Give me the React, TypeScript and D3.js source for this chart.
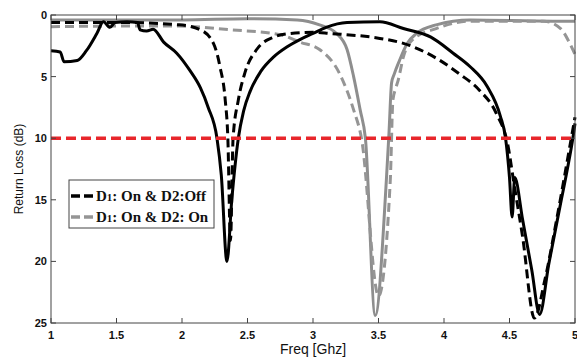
import React, { useRef, useEffect } from 'react';
import * as d3 from 'd3';

// Freq [GHz] / Return loss [dB]
const blackSolidX = [1.0, 1.07, 1.1, 1.2, 1.27, 1.35, 1.4, 1.45, 1.49, 1.58, 1.66, 1.68, 1.73, 1.78, 1.86, 1.96, 2.06, 2.14, 2.2, 2.267, 2.3, 2.343, 2.38, 2.43, 2.47, 2.52, 2.6, 2.7, 2.8, 2.9, 3.0, 3.1, 3.26, 3.51, 3.69, 3.9, 4.07, 4.2, 4.33, 4.43, 4.47, 4.5, 4.52, 4.54, 4.6, 4.67, 4.73, 4.8, 4.89, 4.94, 4.985, 5.0];
const blackSolidY = [2.9, 3.0, 3.8, 3.7, 2.9, 1.5, 0.55, 1.0, 0.6, 0.55, 0.6, 1.2, 1.3, 1.15, 2.2, 3.1, 4.5, 5.9, 7.5, 10, 13, 20, 15, 10, 7.8, 6.2, 4.6, 3.4, 2.6, 2.0, 1.5, 1.0, 0.6, 0.55, 1.1, 1.8, 3.1, 4.2, 5.8, 8.2, 10, 13.2, 16.4, 13.2, 16.6, 20.7, 24.3, 20.2, 15.3, 12.6, 9.9, 8.8];

const blackDashX = [1.0, 1.5, 1.98, 2.14, 2.24, 2.29, 2.33, 2.35, 2.37, 2.39, 2.43, 2.48, 2.57, 2.7, 2.83, 3.0, 3.13, 3.51, 3.69, 3.94, 4.12, 4.27, 4.4, 4.49, 4.53, 4.6, 4.69, 4.77, 4.86, 4.96, 5.0];
const blackDashY = [0.6, 0.6, 0.8, 1.2, 2.3, 4.2, 6.9, 10, 18.3, 10, 6.9, 4.7, 2.8, 1.8, 1.5, 1.4, 1.5, 1.9, 2.3, 3.5, 4.8, 6.1, 8.0, 10.7, 13.4, 18, 24.6, 21.5, 16.6, 10.7, 8.3];

const graySolidX = [1.0, 1.5, 2.0, 2.5, 2.88, 3.05, 3.18, 3.26, 3.31, 3.36, 3.4, 3.475, 3.56, 3.58, 3.6, 3.62, 3.66, 3.72, 3.79, 3.94, 4.2, 4.83, 5.0];
const graySolidY = [0.4, 0.4, 0.4, 0.3, 0.4, 0.8, 1.5, 2.8, 5.0, 7.7, 10, 24.4, 13.4, 9.6, 5.5, 4.8, 3.7, 2.3, 1.5, 0.8, 0.4, 0.5, 0.5];

const grayDashX = [1.0, 1.5, 1.98, 2.37, 2.75, 2.9, 3.05, 3.2, 3.31, 3.37, 3.5, 3.59, 3.61, 3.63, 3.65, 3.69, 3.76, 3.94, 4.2, 4.76, 4.89, 4.96, 5.0];
const grayDashY = [0.95, 0.9, 0.9, 1.2, 1.6, 2.2, 2.8, 4.7, 7.7, 10, 22.8, 13.4, 6.9, 6.0, 5.3, 3.4, 2.0, 1.1, 0.5, 0.5, 1.1, 2.3, 3.2];

const thresholdDb = 10;
const xTicks = [1, 1.5, 2, 2.5, 3, 3.5, 4, 4.5, 5];
const yTicks = [0, 5, 10, 15, 20, 25];

const W = 577, H = 358;
const margin = { top: 15, right: 2, bottom: 35, left: 51 };

const App: React.FC = () => {
  const svgRef = useRef<SVGSVGElement | null>(null);

  useEffect(() => {
    if (!svgRef.current) return;
    const svg = d3.select(svgRef.current);
    svg.selectAll('*').remove();

    const x0 = margin.left, x1 = W - margin.right;
    const y0 = margin.top, y1 = H - margin.bottom;
    const x = d3.scaleLinear().domain([1, 5]).range([x0, x1]);
    const y = d3.scaleLinear().domain([0, 25]).range([y0, y1]);

    svg.append('rect').attr('width', W).attr('height', H).attr('fill', '#fff');

    const plot = svg.append('g');
    const line = d3.line<[number, number]>()
      .x(d => x(d[0]))
      .y(d => y(d[1]))
      .curve(d3.curveMonotoneX);

    const draw = (xs: number[], ys: number[], color: string, dash: string | null) => {
      const pts = xs.map((v, i) => [v, ys[i]] as [number, number]);
      plot.append('path')
        .attr('d', line(pts))
        .attr('fill', 'none')
        .attr('stroke', color)
        .attr('stroke-width', 3)
        .attr('stroke-linejoin', 'round')
        .attr('stroke-dasharray', dash);
    };

    draw(graySolidX, graySolidY, '#8e8e8e', null);
    draw(grayDashX, grayDashY, '#959595', '9,5');
    draw(blackSolidX, blackSolidY, '#000', null);
    draw(blackDashX, blackDashY, '#000', '9,5');

    plot.append('line')
      .attr('x1', x(1)).attr('x2', x(5))
      .attr('y1', y(thresholdDb)).attr('y2', y(thresholdDb))
      .attr('stroke', '#e8262b').attr('stroke-width', 3.5)
      .attr('stroke-dasharray', '10,5');

    // frame and inward ticks
    const axisColor = '#444';
    svg.append('rect')
      .attr('x', x0).attr('y', y0).attr('width', x1 - x0).attr('height', y1 - y0)
      .attr('fill', 'none').attr('stroke', axisColor).attr('stroke-width', 1);

    const tl = 5;
    xTicks.forEach(t => {
      svg.append('line').attr('x1', x(t)).attr('x2', x(t)).attr('y1', y1).attr('y2', y1 - tl).attr('stroke', axisColor);
      svg.append('line').attr('x1', x(t)).attr('x2', x(t)).attr('y1', y0).attr('y2', y0 + tl).attr('stroke', axisColor);
      svg.append('text').attr('x', x(t)).attr('y', y1 + 16)
        .attr('text-anchor', 'middle')
        .attr('font-family', 'Liberation Sans, Arial, sans-serif')
        .attr('font-weight', 'bold').attr('font-size', 11)
        .attr('fill', '#111')
        .text(String(t));
    });
    yTicks.forEach(t => {
      svg.append('line').attr('x1', x0).attr('x2', x0 + tl).attr('y1', y(t)).attr('y2', y(t)).attr('stroke', axisColor);
      svg.append('line').attr('x1', x1).attr('x2', x1 - tl).attr('y1', y(t)).attr('y2', y(t)).attr('stroke', axisColor);
      svg.append('text').attr('x', x0 - 4).attr('y', y(t) + 4)
        .attr('text-anchor', 'end')
        .attr('font-family', 'Liberation Sans, Arial, sans-serif')
        .attr('font-weight', 'bold').attr('font-size', 11)
        .attr('fill', '#111')
        .text(String(t));
    });

    svg.append('text')
      .attr('x', (x0 + x1) / 2).attr('y', H - 4)
      .attr('text-anchor', 'middle')
      .attr('font-family', 'Liberation Sans, Arial, sans-serif')
      .attr('font-size', 14).attr('fill', '#111')
      .text('Freq [Ghz]');

    svg.append('text')
      .attr('transform', `translate(23,${(y0 + y1) / 2}) rotate(-90)`)
      .attr('text-anchor', 'middle')
      .attr('font-family', 'Liberation Sans, Arial, sans-serif')
      .attr('font-size', 12).attr('fill', '#111')
      .text('Return Loss (dB)');

    // legend
    const lg = svg.append('g');
    lg.append('rect').attr('x', 69).attr('y', 180).attr('width', 145).attr('height', 48)
      .attr('fill', '#fff').attr('stroke', '#444').attr('stroke-width', 1);
    const entries = [
      { color: '#000', pre: 'D', sub: '1', mid: ': On & D', sub2: '2', post: ':Off', yy: 196 },
      { color: '#959595', pre: 'D', sub: '1', mid: ': On & D', sub2: '2', post: ': On', yy: 217 },
    ];
    entries.forEach(e => {
      lg.append('line').attr('x1', 71).attr('x2', 94).attr('y1', e.yy).attr('y2', e.yy)
        .attr('stroke', e.color).attr('stroke-width', 3.5).attr('stroke-dasharray', '9,4');
      const t = lg.append('text').attr('x', 96).attr('y', e.yy + 5)
        .attr('font-family', 'Liberation Serif, Times New Roman, serif')
        .attr('font-weight', 'bold').attr('font-size', 15).attr('fill', '#111');
      t.append('tspan').text(e.pre);
      t.append('tspan').attr('font-size', 11).text(e.sub);
      t.append('tspan').text(e.mid);
      t.append('tspan').text(e.sub2);
      t.append('tspan').text(e.post);
    });
  }, []);

  return (
    <div style={{ position: 'fixed', left: 0, top: 0 }}>
      <svg ref={svgRef} width={W} height={H} style={{ display: 'block' }} />
    </div>
  );
};

export default App;
